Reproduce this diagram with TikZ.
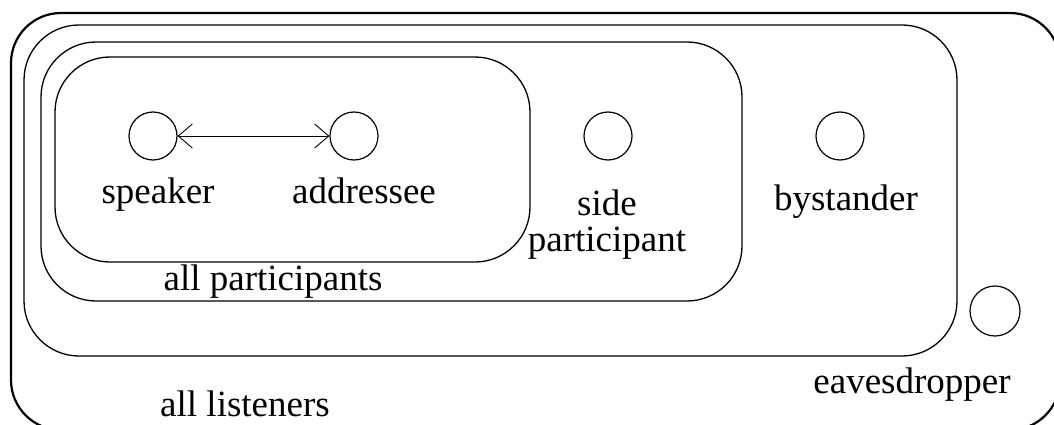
\documentclass[tikz,border=0pt]{standalone}
\usepackage{fontspec}
\setmainfont{Liberation Serif}
\usetikzlibrary{arrows.meta}
\begin{document}
\begin{tikzpicture}[x=1pt,y=-1pt,
  outerbox/.style={draw,line width=2.2pt,rounded corners=50pt},
  setbox/.style={draw,line width=1.3pt,rounded corners=55pt},
  person/.style={draw,line width=1.2pt,circle,minimum size=48pt,inner sep=0pt},
  lbl/.style={anchor=base,inner sep=0pt,font=\fontsize{37}{36}\selectfont},
  talk/.style={line width=0.9pt,{Straight Barb[length=14pt,width=24pt]}-{Straight Barb[length=14pt,width=24pt]}}]
\useasboundingbox (0,0) rectangle (1054,425);
\draw[outerbox] (11,13) rectangle (1060,430);
\draw[setbox] (24,25) rectangle (957,356);
\draw[setbox] (41,42) rectangle (742,301);
\draw[setbox] (55,57) rectangle (530,262);
\node[person] (spk) at (153,136) {};
\node[person] (adr) at (354,136) {};
\node[person] (side) at (608,136) {};
\node[person] (bys) at (840,136) {};
\node[person,minimum size=50pt] (eav) at (995,311) {};
\draw[talk] (spk.east) -- (adr.west);
\node[lbl] (tspk) at (158,203) {speaker};
\node[lbl] (tadr) at (364,203) {addressee};
\node[lbl,anchor=center,align=center] (tside) at (607,225) {side\\participant};
\node[lbl] (tbys) at (846,210) {bystander};
\node[lbl] (tallp) at (273,290) {all participants};
\node[lbl] (talll) at (245,416) {all listeners};
\node[lbl] (teav) at (912,393) {eavesdropper};
\end{tikzpicture}
\end{document}
